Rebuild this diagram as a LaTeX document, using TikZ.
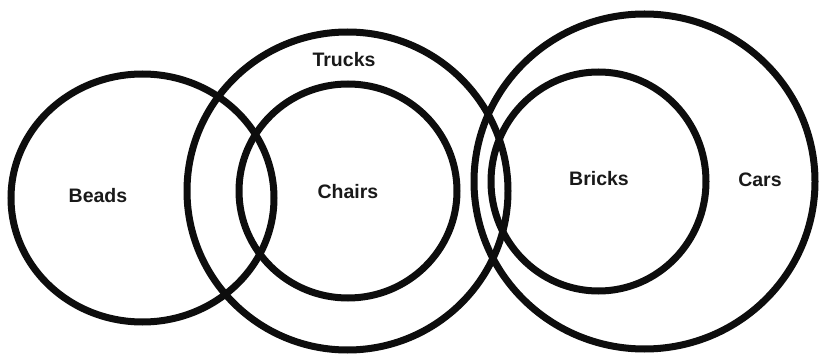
\documentclass[tikz,border=0pt]{standalone}
\usepackage{fontspec}
\setmainfont{Liberation Sans}
\begin{document}
\begin{tikzpicture}[x=1pt,y=-1pt,
  ring/.style={draw=black!95,line width=7pt},
  lbl/.style={font=\bfseries\fontsize{19.5}{21}\selectfont,text=black!90,inner sep=0pt}]
\useasboundingbox[fill=white] (0,0) rectangle (820,358);
\draw[ring] (142.5,198) ellipse [x radius=131.5pt, y radius=124pt];
\draw[ring] (347.5,191) ellipse [x radius=160.5pt, y radius=159pt];
\draw[ring] (348,191) ellipse [x radius=109pt, y radius=107pt];
\draw[ring] (644.5,181.5) ellipse [x radius=170.5pt, y radius=167.5pt];
\draw[ring] (598.5,181.5) ellipse [x radius=107.5pt, y radius=109.5pt];
\node[lbl] (beads) at (98,196) {Beads};
\node[lbl] (trucks) at (344,60) {Trucks};
\node[lbl] (chairs) at (348,192) {Chairs};
\node[lbl] (bricks) at (599,179) {Bricks};
\node[lbl] (cars) at (760,180) {Cars};
\end{tikzpicture}
\end{document}
